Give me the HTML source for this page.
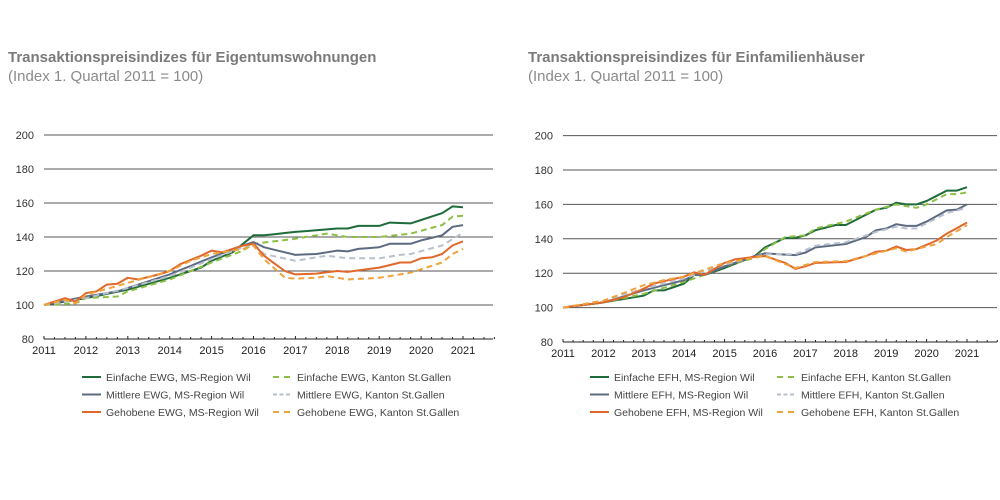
<!DOCTYPE html>
<html><head><meta charset="utf-8"><style>
html,body{margin:0;padding:0;background:#fff;width:1000px;height:500px;overflow:hidden;font-family:"Liberation Sans",sans-serif}
</style></head><body>
<svg id="s" width="1000" height="500" xmlns="http://www.w3.org/2000/svg" font-family="Liberation Sans, sans-serif">
<text x="8" y="62" font-size="15" font-weight="bold" fill="#7a7a7a">Transaktionspreisindizes für Eigentumswohnungen</text>
<text x="8" y="81" font-size="15" fill="#8a8a8a">(Index 1. Quartal 2011 = 100)</text>
<text x="528" y="62" font-size="15" font-weight="bold" fill="#7a7a7a">Transaktionspreisindizes für Einfamilienhäuser</text>
<text x="528" y="81" font-size="15" fill="#8a8a8a">(Index 1. Quartal 2011 = 100)</text>
</svg>
<script>
var NS="http://www.w3.org/2000/svg",S=document.getElementById('s');
function el(t,a,txt){var e=document.createElementNS(NS,t);for(var k in a)e.setAttribute(k,a[k]);if(txt)e.textContent=txt;S.appendChild(e);return e;}
function interp(pts){var out=[];for(var q=0;q<=40;q++){var t=2011+q/4;for(var i=0;i<pts.length-1;i++){var a=pts[i],b=pts[i+1];if(t>=a[0]-1e-9&&t<=b[0]+1e-9){out.push([t,a[1]+(b[1]-a[1])*(t-a[0])/(b[0]-a[0])]);break;}}}return out;}
function chart(c){
 var X=function(t){return c.x0+(t-2011)*c.dx},Y=function(v){return c.y80-(v-80)*c.dy};
 for(var v=80;v<=200;v+=20){el('line',{x1:c.x0,x2:c.x1,y1:Y(v),y2:Y(v),stroke:v==80?'#222':'#555','stroke-width':1});
  el('text',{x:c.x0-10,y:Y(v)+4,'font-size':11,fill:'#333','text-anchor':'end'},''+v);}
 for(var q=0;q<=43;q++){var xx=X(2011+q/4);el('line',{x1:xx,x2:xx,y1:Y(80),y2:Y(80)-(q%4==0?3:2),stroke:'#222','stroke-width':1});}
 for(var y=2011;y<=2021;y++)el('text',{x:X(y),y:Y(80)+15,'font-size':11,fill:'#222','text-anchor':'middle'},''+y);
 c.series.forEach(function(s){var p=interp(s.p).map(function(d){return X(d[0]).toFixed(1)+','+Y(d[1]).toFixed(1)}).join(' ');
  var a={points:p,fill:'none',stroke:s.c,'stroke-width':2,'stroke-linejoin':'round'};if(s.d)a['stroke-dasharray']='6,4';el('polyline',a);});
 c.series.forEach(function(s,i){var col=i%2,row=Math.floor(i/2);var lx=c.lx[col],ly=c.ly+row*17.5;
  var a={x1:lx,x2:lx+19,y1:ly,y2:ly,stroke:s.c,'stroke-width':2};if(s.d)a['stroke-dasharray']=s.c=='#b9c0cd'?'4,2.5':'6,5';el('line',a);
  el('text',{x:lx+24,y:ly+4,'font-size':10.5,fill:'#444'},s.n);});
}
var DG='#1f6b3a',LG='#8dbf44',BG='#5d6b82',LB='#b9c0cd',OR='#e0682b',LO='#f0a23c';
chart({x0:44,x1:493,dx:41.9,y80:339,dy:1.7,lx:[82,273],ly:377,series:[
{n:'Einfache EWG, MS-Region Wil',c:DG,p:[[2011,100],[2012,104],[2013,109],[2014,116],[2014.75,122],[2015,126],[2015.5,131],[2015.75,136],[2016,141],[2016.25,141],[2017,143],[2018,145],[2018.25,145],[2018.5,146.5],[2019,146.5],[2019.25,148.5],[2019.75,148],[2020,150],[2020.5,154],[2020.75,158],[2021,157.5]]},
{n:'Einfache EWG, Kanton St.Gallen',c:LG,d:1,p:[[2011,100],[2011.75,101],[2012,104],[2012.75,105],[2013,108],[2014,115],[2015,125],[2015.75,132],[2016,136],[2017,139],[2017.75,142],[2018.25,140],[2019,140],[2019.75,142],[2020.5,147],[2020.75,152],[2021,152.5]]},
{n:'Mittlere EWG, MS-Region Wil',c:BG,p:[[2011,100],[2012,105],[2012.75,108],[2013,110],[2014,118],[2015,128],[2015.75,135],[2016,137],[2016.25,134],[2017,129.5],[2017.5,130],[2018,132],[2018.25,131.5],[2018.5,133],[2019,134],[2019.25,136],[2019.75,136],[2020,138],[2020.5,141],[2020.75,146],[2021,147]]},
{n:'Mittlere EWG, Kanton St.Gallen',c:LB,d:1,p:[[2011,100],[2012,104],[2013,110],[2014,117],[2015,127],[2015.75,134],[2016,136],[2016.25,130],[2017,126],[2017.75,129],[2018.25,127.5],[2019,127.5],[2019.5,129.5],[2019.75,130],[2020.5,135],[2021,142.5]]},
{n:'Gehobene EWG, MS-Region Wil',c:OR,p:[[2011,100],[2011.5,104],[2011.75,102],[2012,107],[2012.25,108],[2012.5,112],[2012.75,112.5],[2013,116],[2013.25,115],[2013.75,118],[2014,120],[2014.25,124],[2014.75,129],[2015,132],[2015.25,131],[2015.75,135],[2016,136],[2016.25,129],[2016.75,120],[2017,118],[2017.5,118.5],[2018,120],[2018.25,119.5],[2019,122],[2019.5,125],[2019.75,125],[2020,127.5],[2020.25,128],[2020.5,130],[2020.75,135],[2021,137.5]]},
{n:'Gehobene EWG, Kanton St.Gallen',c:LO,d:1,p:[[2011,100],[2011.5,103],[2011.75,101],[2012,106],[2013,113],[2014,120],[2014.5,126],[2015,130],[2015.75,133],[2016,135],[2016.25,127],[2016.75,116],[2017,115.5],[2017.5,116],[2017.75,117],[2018.25,115],[2019,116],[2019.75,119],[2020,121],[2020.25,123],[2020.5,125],[2020.75,130],[2021,133]]}]});
chart({x0:563,x1:997,dx:40.4,y80:342,dy:1.72,lx:[590,777],ly:377,series:[
{n:'Einfache EFH, MS-Region Wil',c:DG,p:[[2011,100],[2012,103],[2013,107],[2013.25,110],[2013.5,110],[2014,114],[2014.25,119],[2014.5,119],[2015,123],[2015.75,130],[2016,135],[2016.5,140.5],[2016.75,140.5],[2017,142],[2017.25,145],[2017.75,148],[2018,148],[2018.75,157],[2019,158],[2019.25,161],[2019.5,160],[2019.75,160],[2020,162],[2020.5,168],[2020.75,168],[2021,170]]},
{n:'Einfache EFH, Kanton St.Gallen',c:LG,d:1,p:[[2011,100],[2012,103],[2013,108],[2014,115],[2014.5,119],[2015,124],[2015.75,129],[2016,134],[2016.5,141],[2017,142],[2017.25,146],[2018,150],[2018.75,157],[2019.25,160],[2019.75,158],[2020,160],[2020.5,166],[2020.75,166],[2021,167]]},
{n:'Mittlere EFH, MS-Region Wil',c:BG,p:[[2011,100],[2012,103],[2013,110],[2014,116],[2014.25,119],[2014.5,119],[2015,124],[2015.75,130],[2016,131.5],[2016.75,130.5],[2017,132],[2017.25,135],[2018,137],[2018.5,141],[2018.75,145],[2019,146],[2019.25,148.5],[2019.5,147.5],[2019.75,147.5],[2020,150],[2020.5,156.5],[2020.75,157],[2021,160]]},
{n:'Mittlere EFH, Kanton St.Gallen',c:LB,d:1,p:[[2011,100],[2012,104],[2013,111],[2014,117],[2015,125],[2016,131],[2016.75,131],[2017.25,136],[2018,138],[2018.75,144],[2019.25,147],[2019.5,146],[2019.75,146],[2020.5,155],[2021,158]]},
{n:'Gehobene EFH, MS-Region Wil',c:OR,p:[[2011,100],[2012,103],[2012.5,106],[2013,111],[2013.25,114],[2014,118],[2014.25,120.5],[2014.5,119],[2015,126],[2015.25,128],[2015.75,129.5],[2016,130],[2016.5,126],[2016.75,122.5],[2017,124],[2017.25,126],[2018,126.5],[2018.5,130],[2018.75,132.5],[2019,133],[2019.25,135.5],[2019.5,133.5],[2019.75,134],[2020,136.5],[2020.25,139],[2020.5,143],[2021,149.5]]},
{n:'Gehobene EFH, Kanton St.Gallen',c:LO,d:1,p:[[2011,100],[2012,104],[2013,113],[2013.5,116],[2014,118],[2015,126],[2016,130],[2016.75,123],[2017.25,126.5],[2018,127],[2019.25,134.5],[2019.5,132.5],[2020.25,137],[2020.5,141],[2021,148]]}]});
</script>
</body></html>
